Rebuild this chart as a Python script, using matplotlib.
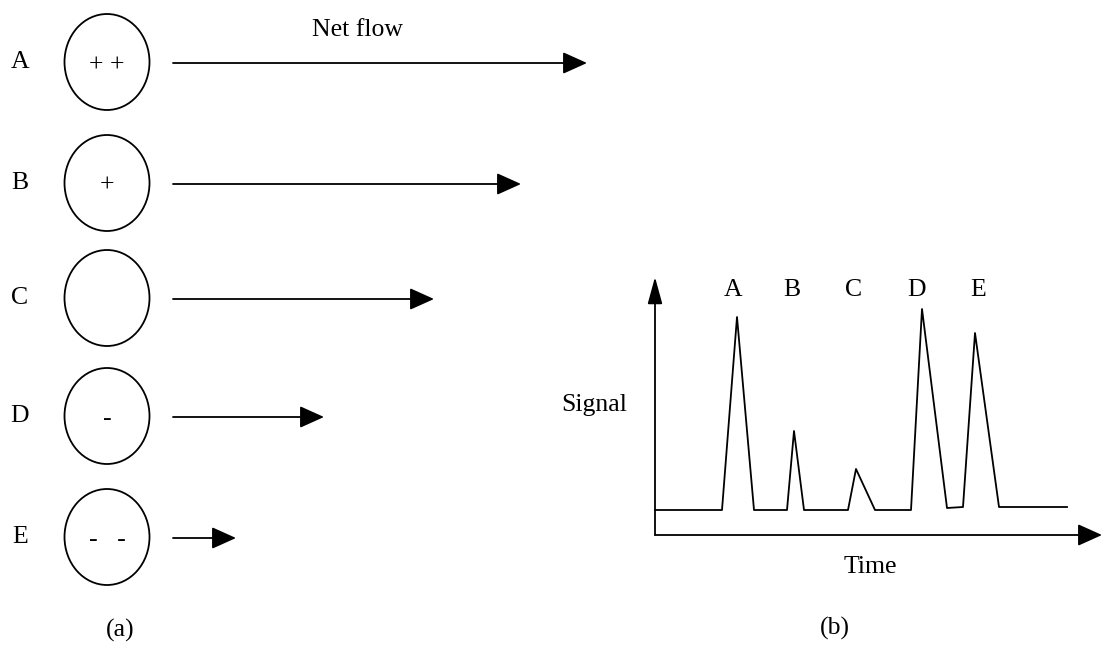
import matplotlib
matplotlib.use("Agg")
import matplotlib.pyplot as plt
from matplotlib.patches import Ellipse

plt.rcParams['font.family'] = ['Liberation Serif', 'DejaVu Serif']

# panel (a): ions, their charge and net flow (arrow length, px)
species = ['A', 'B', 'C', 'D', 'E']
charges = ['+ +', '+', '', '-', '-   -']
net_flow = [414, 348, 261, 151, 63]

# panel (b): detector trace (time, signal)
sig_time = [0, 67, 82, 99, 132, 139, 149, 193, 201, 220, 256, 267, 292, 308, 320, 344, 412]
sig_val = [25, 25, 218, 25, 25, 104, 25, 25, 66, 25, 25, 226, 27, 28, 202, 28, 28]
peak_time = [78, 137, 199, 262, 323]

W, H = 1104, 653
fig = plt.figure(figsize=(W / 100, H / 100), dpi=100)

# panel (a) drawn in pixel coordinates
ax = fig.add_axes([0, 0, 1, 1])
ax.set_xlim(0, W)
ax.set_ylim(H, 0)
ax.axis('off')

row_y = [62, 183, 298, 416, 537]
cx = 107
x0 = 173
fs = 18.5
for name, q, flow, y in zip(species, charges, net_flow, row_y):
    ax.text(20, y, name, fontsize=fs, ha='center', va='center')
    ax.add_patch(Ellipse((cx, y), 85, 96, fill=False, lw=1.3, ec='k'))
    if q:
        ax.text(cx, y + 3, q, fontsize=fs, ha='center', va='center')
    ax.annotate('', xy=(x0 + flow, y + 1), xytext=(x0, y + 1),
                arrowprops=dict(arrowstyle='-|>,head_length=1.0,head_width=0.45',
                                mutation_scale=15, lw=1.3, color='k',
                                shrinkA=0, shrinkB=0))
ax.text(357, 30, 'Net flow', fontsize=fs, ha='center', va='center')
ax.text(120, 630, '(a)', fontsize=fs, ha='center', va='center')
ax.text(835, 628, '(b)', fontsize=fs, ha='center', va='center')
ax.text(594, 405, 'Signal', fontsize=fs, ha='center', va='center')
ax.text(870, 567, 'Time', fontsize=fs, ha='center', va='center')

# panel (b) axes
bx = fig.add_axes([655 / W, (H - 535) / H, 445 / W, 258 / H])
bx.set_xlim(0, 445)
bx.set_ylim(0, 258)
bx.axis('off')
bx.plot(sig_time, sig_val, color='k', lw=1.3, clip_on=False)
bx.annotate('', xy=(0, 258), xytext=(0, 0),
            arrowprops=dict(arrowstyle='-|>,head_length=1.1,head_width=0.3',
                            mutation_scale=15, lw=1.3, color='k',
                            shrinkA=0, shrinkB=0), annotation_clip=False)
bx.annotate('', xy=(447, 0), xytext=(0, 0),
            arrowprops=dict(arrowstyle='-|>,head_length=1.0,head_width=0.45',
                            mutation_scale=15, lw=1.3, color='k',
                            shrinkA=0, shrinkB=0), annotation_clip=False)
for name, t in zip(species, peak_time):
    bx.text(t, 245, name, fontsize=fs, ha='center', va='center', clip_on=False)

fig.savefig('out.png', dpi=100)
